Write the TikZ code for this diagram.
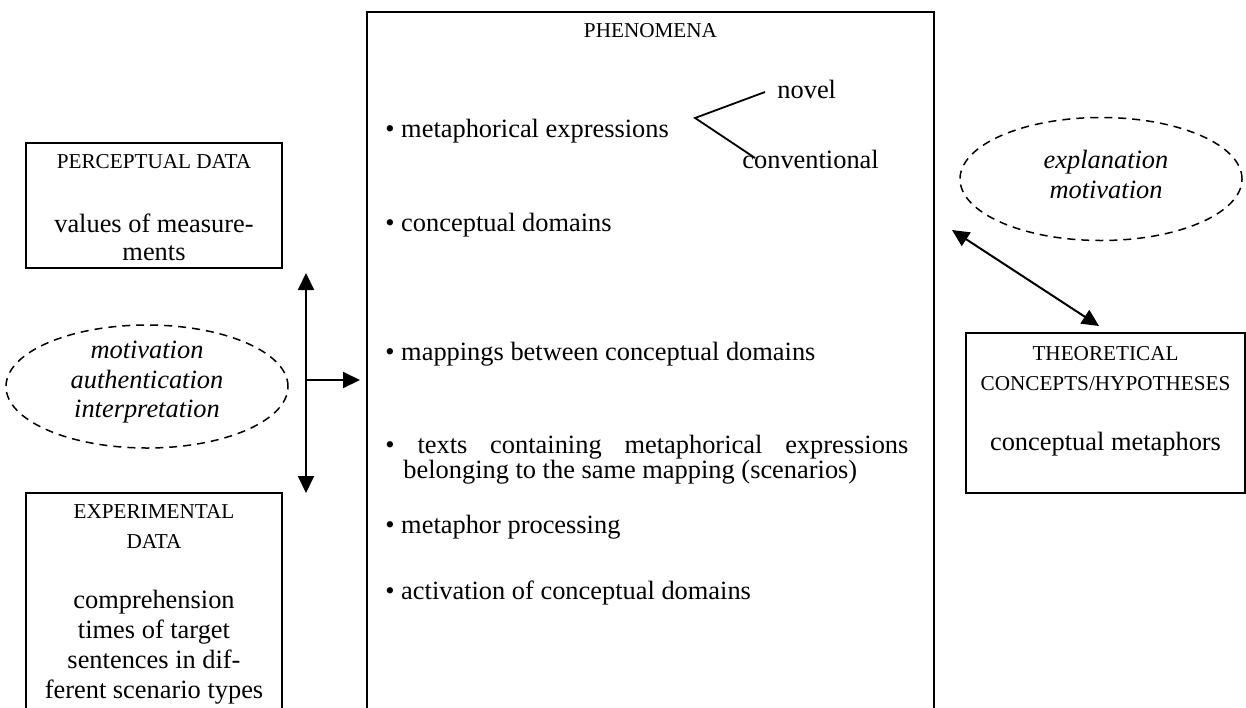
\documentclass[tikz,border=0pt]{standalone}
\usepackage{fontspec}
\setmainfont{Liberation Serif}
\usetikzlibrary{arrows.meta,shapes.geometric}
\begin{document}
\begin{tikzpicture}[x=0.5pt,y=-0.5pt,
  txt/.style={inner sep=0pt, anchor=base, font=\fontsize{13.2}{15}\selectfont},
  itx/.style={txt, font=\fontsize{13.2}{15}\selectfont\itshape},
  captxt/.style={inner sep=0pt, anchor=base, font=\fontsize{10.6}{13}\selectfont},
  item/.style={txt, anchor=base west},
  boxline/.style={line width=1pt},
  datbox/.style={draw, line width=1pt, inner sep=0pt},
  dashell/.style={draw, ellipse, dash pattern=on 4pt off 3pt, line width=0.75pt,
    minimum width=141pt, minimum height=61.5pt, inner sep=0pt},
  arr/.style={line width=1pt, -{Triangle[length=8.5pt,width=8pt]}},
  darr/.style={line width=1pt, {Triangle[length=8.5pt,width=8pt]}-{Triangle[length=8.5pt,width=8pt]}},
]
\useasboundingbox (0,0) rectangle (1246,707);

% central PHENOMENA box (open at the bottom)
\coordinate (cbl) at (367,730);
\coordinate (ctl) at (367,12);
\coordinate (ctr) at (934,12);
\coordinate (cbr) at (934,730);
\draw[boxline] (cbl) -- (ctl) -- (ctr) -- (cbr);
\node[captxt] (phen) at (650.5,37) {PHENOMENA};

\node[item] (i1) at (385,137) {\textbullet\ metaphorical expressions};
\node[item] (i2) at (385,231) {\textbullet\ conceptual domains};
\node[item] (i3) at (385,360) {\textbullet\ mappings between conceptual domains};
\node[item] (i4a) at (385,453) {\makebox[261.5pt][s]{\textbullet\ texts containing metaphorical expressions}};
\node[item] (i4b) at (403,478) {belonging to the same mapping (scenarios)};
\node[item] (i5) at (385,533) {\textbullet\ metaphor processing};
\node[item] (i6) at (385,599) {\textbullet\ activation of conceptual domains};

% novel / conventional branch
\coordinate (br) at (695,118);
\coordinate (brn) at (765,92);
\coordinate (brc) at (755,158);
\draw[line width=0.9pt] (brn) -- (br) -- (brc);
\node[item] (novel) at (777,98) {novel};
\node[item] (conv) at (742,168) {conventional};

% PERCEPTUAL DATA box
\node[datbox, minimum width=128pt, minimum height=62.5pt] (perc) at (154,205.5) {};
\node[captxt] (percA) at (154,168) {PERCEPTUAL DATA};
\node[txt] (percB) at (154,232) {values of measure-};
\node[txt] (percC) at (154,260) {ments};

% left ellipse
\node[dashell] (lell) at (147,386.5) {};
\node[itx] (lellA) at (147,358) {motivation};
\node[itx] (lellB) at (147,388) {authentication};
\node[itx] (lellC) at (147,417) {interpretation};

% arrows on the left
\coordinate (vtop) at (306,273);
\coordinate (vbot) at (306,493);
\coordinate (vmid) at (306,380);
\coordinate (hend) at (360,380);
\draw[darr] (vtop) -- (vbot);
\draw[arr] (vmid) -- (hend);

% EXPERIMENTAL DATA box (open at the bottom)
\coordinate (ebl) at (26,730);
\coordinate (etl) at (26,493);
\coordinate (etr) at (282,493);
\coordinate (ebr) at (282,730);
\draw[boxline] (ebl) -- (etl) -- (etr) -- (ebr);
\node[captxt] (expA) at (154,518) {EXPERIMENTAL};
\node[captxt] (expB) at (154,548) {DATA};
\node[txt] (expC) at (154,608) {comprehension};
\node[txt] (expD) at (154,638) {times of target};
\node[txt] (expE) at (154,668) {sentences in dif-};
\node[txt] (expF) at (154,698) {ferent scenario types};

% right ellipse
\node[dashell] (rell) at (1101,179) {};
\node[itx] (rellA) at (1106,168) {explanation};
\node[itx] (rellB) at (1106,198) {motivation};

% THEORETICAL box
\node[datbox, minimum width=139.5pt, minimum height=80pt] (theo) at (1105.5,413) {};
\node[captxt] (theoA) at (1105.5,360) {THEORETICAL};
\node[captxt] (theoB) at (1105.5,390) {CONCEPTS/HYPOTHESES};
\node[txt] (theoC) at (1105.5,450) {conceptual metaphors};

% diagonal double arrow
\coordinate (d1) at (952,230);
\coordinate (d2) at (1099,326);
\draw[darr] (d1) -- (d2);
\end{tikzpicture}
\end{document}
